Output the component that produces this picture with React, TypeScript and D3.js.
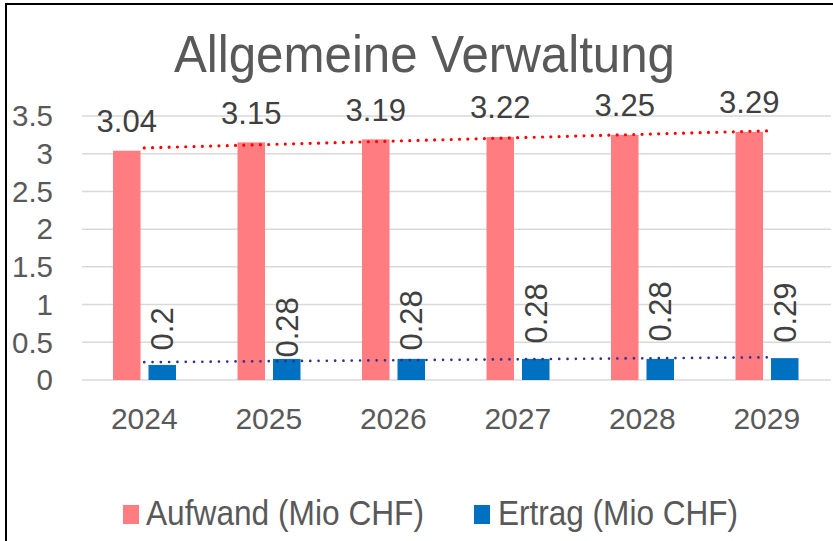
import React from "react";
import * as d3 from "d3";

const years = ["2024", "2025", "2026", "2027", "2028", "2029"];
const aufwand = [3.04, 3.15, 3.19, 3.22, 3.25, 3.29];
const ertrag = [0.2, 0.28, 0.28, 0.28, 0.28, 0.29];
const seriesNames = ["Aufwand (Mio CHF)", "Ertrag (Mio CHF)"];
const yTicks = [0, 0.5, 1, 1.5, 2, 2.5, 3, 3.5];
const title = "Allgemeine Verwaltung";

// style constants (label lift above blue bars, px)
const ertragLabelLift = [36, 31.5, 38.5, 45.5, 47.5, 45.5];
const PINK = "#FF7C80";
const BLUE = "#0070C0";
const FONT = "'Liberation Sans', Arial, sans-serif";

function trend(vals: number[]) {
  const n = vals.length;
  const xs = d3.range(n);
  const mx = d3.mean(xs)!;
  const my = d3.mean(vals)!;
  let sxy = 0, sxx = 0;
  xs.forEach((x, i) => { sxy += (x - mx) * (vals[i] - my); sxx += (x - mx) ** 2; });
  const b = sxy / sxx;
  const a = my - b * mx;
  return xs.map((x) => a + b * x);
}

export default function App() {
  const W = 833, H = 541;
  const y = d3.scaleLinear().domain([0, 3.5]).range([380, 116]);
  const x = d3.scaleBand().domain(years).range([82, 829]).padding(0);
  const inner = d3.scaleBand().domain(seriesNames).range([31, 94]).paddingInner(0.225);
  const cx = (yr: string) => x(yr)! + x.bandwidth() / 2;
  const line = d3.line<number>().x((_, i) => cx(years[i])).y((v) => y(v));
  const tA = trend(aufwand);
  const tE = trend(ertrag);
  const bw = inner.bandwidth();

  return (
    <svg width={W} height={H} style={{ position: "absolute", left: 0, top: 0, background: "#fff" }} fontFamily={FONT}>
      <rect x={0} y={0} width={W} height={H} fill="#fff" />
      <rect x={6} y={4} width={1000} height={1000} fill="none" stroke="#000" strokeWidth={2} />
      <text x={424.5} y={72} fontSize={52} fill="#595959" textAnchor="middle" textLength={501} lengthAdjust="spacingAndGlyphs">{title}</text>
      {yTicks.map((t) => (
        <g key={t}>
          <line x1={82} x2={831} y1={y(t)} y2={y(t)} stroke="#D9D9D9" strokeWidth={1.5} />
          <text x={53} y={y(t)} dy="0.35em" fontSize={29.5} fill="#595959" textAnchor="end">{t}</text>
        </g>
      ))}
      {years.map((yr, i) => {
        const xa = x(yr)! + inner(seriesNames[0])!;
        const xe = x(yr)! + inner(seriesNames[1])!;
        return (
          <g key={yr}>
            <rect x={xa} y={y(aufwand[i])} width={bw} height={y(0) - y(aufwand[i])} fill={PINK} />
            <rect x={xe} y={y(ertrag[i])} width={bw} height={y(0) - y(ertrag[i])} fill={BLUE} />
            <text x={xa + bw / 2} y={y(aufwand[i]) - 18.7} fontSize={31} fill="#404040" textAnchor="middle">{aufwand[i]}</text>
            <text transform={`translate(${xe + bw / 2},${y(ertrag[i]) - ertragLabelLift[i]}) rotate(-90)`} dy="0.35em" fontSize={31} fill="#404040" textAnchor="middle">{ertrag[i]}</text>
            <text x={cx(yr)} y={429} fontSize={30} fill="#595959" textAnchor="middle">{yr}</text>
          </g>
        );
      })}
      <path d={line(tA)!} fill="none" stroke="#FF0000" strokeWidth={3.2} strokeDasharray="0 8.3" strokeLinecap="round" />
      <path d={line(tE)!} fill="none" stroke="#2E3192" strokeWidth={2.7} strokeDasharray="0 8.3" strokeLinecap="round" />
      <rect x={123} y={505} width={16} height={19} fill={PINK} />
      <text x={146} y={524.5} fontSize={35} fill="#595959" textLength={278} lengthAdjust="spacingAndGlyphs">{seriesNames[0]}</text>
      <rect x={474} y={505} width={16} height={19} fill={BLUE} />
      <text x={498} y={524.5} fontSize={35} fill="#595959" textLength={240} lengthAdjust="spacingAndGlyphs">{seriesNames[1]}</text>
    </svg>
  );
}
